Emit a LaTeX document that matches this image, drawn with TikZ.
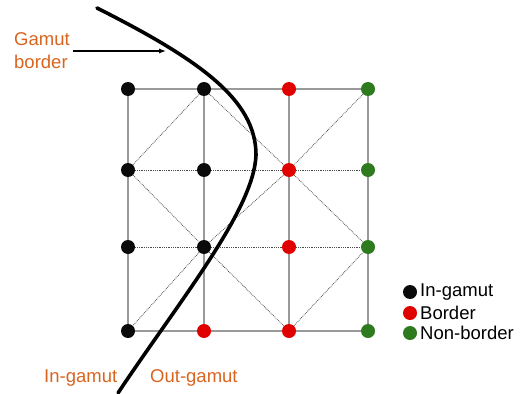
\documentclass[tikz,border=0pt]{standalone}
\usepackage{fontspec}
\setmainfont{Liberation Sans}
\usepackage{tikz}
\usetikzlibrary{arrows.meta,backgrounds}
\definecolor{Orange}{HTML}{D9641F}
\definecolor{Grid}{HTML}{9A9A9A}
\definecolor{InG}{HTML}{0A0A0A}
\definecolor{Bord}{HTML}{E00000}
\definecolor{NonB}{HTML}{2E7A1E}

\begin{document}
\begin{tikzpicture}[
  x=1pt,y=-1pt,
  pt/.style={circle,fill=#1,inner sep=0pt,minimum size=14pt},
  edge/.style={draw=Grid,line width=1.1pt},
  mesh/.style={draw=black!70,line width=.8pt,densely dotted},
  lab/.style={font=\fontsize{18.5}{23}\selectfont,inner sep=0pt},
  gamut/.style={line width=3.6pt,line cap=round}
]
\useasboundingbox (0,0) rectangle (521,393);
% grid points, column by column
\node[pt=InG] (p00) at (128,89) {}; \node[pt=InG] (p01) at (128,170) {};
\node[pt=InG] (p02) at (128,247) {}; \node[pt=InG] (p03) at (128,331) {};
\node[pt=InG] (p10) at (204,89) {}; \node[pt=InG] (p11) at (204,170) {};
\node[pt=InG] (p12) at (204,247) {}; \node[pt=Bord] (p13) at (204,331) {};
\node[pt=Bord] (p20) at (289,89) {}; \node[pt=Bord] (p21) at (289,170) {};
\node[pt=Bord] (p22) at (289,247) {}; \node[pt=Bord] (p23) at (289,331) {};
\node[pt=NonB] (p30) at (368,89) {}; \node[pt=NonB] (p31) at (368,170) {};
\node[pt=NonB] (p32) at (368,247) {}; \node[pt=NonB] (p33) at (368,331) {};

\begin{scope}[on background layer]
\draw[edge] (p00)--(p10)--(p20)--(p30);
\draw[edge] (p03)--(p13)--(p23)--(p33);
\foreach \c in {0,1,2,3}{
  \draw[edge] (p\c0)--(p\c1)--(p\c2)--(p\c3);
}
\draw[mesh] (p01)--(p11)--(p21)--(p31);
\draw[mesh] (p02)--(p12)--(p22)--(p32);
\draw[mesh] (p01)--(p10);
\draw[mesh] (p10)--(p21)--(p32);
\draw[mesh] (p30)--(p21)--(p12)--(p03);
\draw[mesh] (p01)--(p12)--(p23);
\draw[mesh] (p23)--(p32);
\end{scope}

% gamut border curve
\coordinate (tip) at (166,51);
\draw[gamut] (97,8) .. controls (200,60) and (256,100) .. (256,155)
  .. controls (254,210) and (180,300) .. (118,393);

\node[lab,text=Orange,align=left,anchor=west] (gb) at (14,51) {Gamut\\border};
\draw[-{Latex[length=7pt,width=5pt]},line width=1.1pt] ([xshift=3pt]gb.east) -- (tip);

\node[lab,text=Orange,anchor=base west] (ing) at (44,382) {In-gamut};
\node[lab,text=Orange,anchor=base west] (outg) at (150,382) {Out-gamut};

% legend
\node[pt=InG] (k1) at (410,292) {};
\node[pt=Bord] (k2) at (410,313) {};
\node[pt=NonB] (k3) at (410,333) {};
\node[lab,anchor=west] (t1) at (420,292) {In-gamut};
\node[lab,anchor=west] (t2) at (420,313) {Border};
\node[lab,anchor=west] (t3) at (420,333) {Non-border};
\end{tikzpicture}
\end{document}
